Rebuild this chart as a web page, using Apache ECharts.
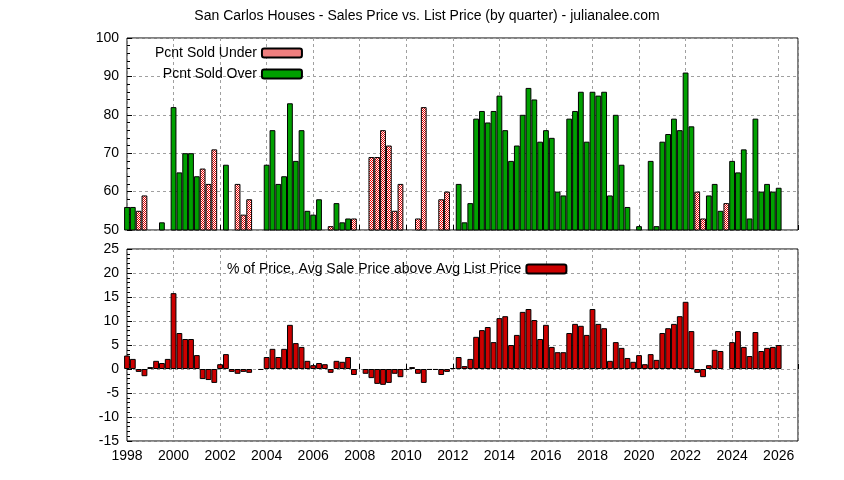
<!DOCTYPE html>
<head>
    <meta charset="UTF-8">
    <title>San Carlos Houses</title>
</head>
<body style="margin:0">
<div id="main" style="width:844px;height:480px"></div>
<script src="https://cdn.jsdelivr.net/npm/echarts@6/dist/echarts.min.js"></script>
<script type="text/javascript">
    // one entry per quarter, 1998 Q1 .. 2026 Q1
    var firstYear = 1998;
    var soldPct = [56,56,55,59,null,null,52,null,82,65,
        70,70,64,66,62,71,null,67,null,62,
        54,58,null,null,67,76,62,64,83,68,
        76,55,54,58,null,51,57,52,53,53,
        null,null,69,69,76,72,55,62,null,null,
        53,82,null,null,58,60,null,62,52,57,
        79,81,78,81,85,76,68,72,80,87,
        84,73,76,74,60,59,79,81,86,73,
        86,85,86,59,80,67,56,null,51,null,
        68,51,73,75,79,76,91,77,60,53,
        59,62,55,57,68,65,71,53,79,60,
        62,60,61];
    // U = sold under list, O = sold over list
    var soldSide = 'OOUU--O-OO' + 'OOOUUU-O-U' + 'UU--OOOOOO' + 'OOOO-UOOOU' +
        '--UUUUUU--' + 'UU--UU-OOO' + 'OOOOOOOOOO' + 'OOOOOOOOOO' +
        'OOOOOOO-O-' + 'OOOOOOOOUU' + 'OOOUOOOOOO' + 'OOO';
    var avgPct = [2.8,2.1,-0.6,-1.5,0.4,1.7,1.25,2.1,15.8,7.5,
        6.25,6.25,2.9,-2.1,-2.3,-2.9,1.0,3.1,-0.6,-1.0,
        -0.6,-0.8,0,-0.2,2.5,4.2,2.5,4.2,9.2,5.4,
        4.6,1.7,0.8,1.25,1.0,-0.8,1.7,1.5,2.5,-1.25,
        0,-1.0,-1.9,-3.1,-3.3,-2.9,-1.0,-1.7,-0.2,0.4,
        -1.0,-2.9,-0.2,-0.2,-1.25,-0.6,0.2,2.5,0.6,2.1,
        6.7,8.1,8.75,5.6,10.6,11.0,5.0,7.1,11.9,12.5,
        10.2,6.25,9.2,4.6,3.5,3.5,7.5,9.4,9.0,7.1,
        12.5,9.4,8.5,1.7,5.6,4.4,2.3,1.5,2.9,1.0,
        3.1,1.9,7.5,8.5,9.4,11.0,14.0,7.9,-0.8,-1.7,
        0.8,4.0,3.75,0,5.6,7.9,4.6,2.7,7.7,3.75,
        4.4,4.6,5.0];

    var underData = [], overData = [], avgData = [];
    for (var i = 0; i < soldPct.length; i++) {
        var x = firstYear + i * 0.25;
        if (soldPct[i] != null) {
            if (soldSide.charAt(i) == 'U') underData.push([x, soldPct[i]]);
            else overData.push([x, soldPct[i]]);
        }
        if (avgPct[i] != 0) avgData.push([x, avgPct[i]]);
    }

    // red/white checker hatch
    var hatch = document.createElement('canvas');
    hatch.width = 4; hatch.height = 4;
    var ctx = hatch.getContext('2d');
    ctx.fillStyle = '#fff'; ctx.fillRect(0, 0, 4, 4);
    ctx.fillStyle = '#e00000';
    ctx.fillRect(0, 0, 1, 1); ctx.fillRect(2, 0, 1, 1);
    ctx.fillRect(1, 1, 1, 1); ctx.fillRect(3, 1, 1, 1);
    ctx.fillRect(0, 2, 1, 1); ctx.fillRect(2, 2, 1, 1);
    ctx.fillRect(1, 3, 1, 1); ctx.fillRect(3, 3, 1, 1);

    var font = 'Liberation Sans';
    var dashed = {show: true, lineStyle: {color: '#a0a0a0', type: [3, 3], width: 1}};
    function xAx(idx, labels) {
        return {
            type: 'value', gridIndex: idx, min: 1998, max: 2026.83, interval: 2,
            axisLine: {show: false},
            axisTick: {inside: true, length: 5, lineStyle: {color: '#000'}},
            axisLabel: {show: labels, color: '#000', fontFamily: font, fontSize: 14,
                formatter: function (v) { return v <= 2026 ? v : ''; }},
            splitLine: dashed
        };
    }
    function yAx(idx, min, max, step) {
        return {
            type: 'value', gridIndex: idx, min: min, max: max, interval: step,
            axisLine: {show: false},
            axisTick: {inside: true, length: 5, lineStyle: {color: '#000'}},
            minorTick: {show: true, splitNumber: 5, length: 3, lineStyle: {color: '#000'}},
            axisLabel: {color: '#000', fontFamily: font, fontSize: 14},
            splitLine: dashed
        };
    }
    var barStyle = {borderColor: '#000', borderWidth: 1};

    var option = {
        animation: false,
        title: {
            text: 'San Carlos Houses - Sales Price vs. List Price (by quarter) - julianalee.com',
            left: 422, top: 4, textAlign: 'center',
            textStyle: {fontFamily: font, fontSize: 14, fontWeight: 'normal', color: '#000'}
        },
        grid: [
            {left: 127, top: 38, width: 671, height: 192, show: true, borderColor: '#000', borderWidth: 1},
            {left: 127, top: 249, width: 671, height: 192, show: true, borderColor: '#000', borderWidth: 1}
        ],
        legend: [
            {
                data: ['Pcnt Sold Under', 'Pcnt Sold Over'],
                orient: 'vertical', align: 'right', left: 150, top: 41,
                itemWidth: 40, itemHeight: 9, itemGap: 7,
                textStyle: {fontFamily: font, fontSize: 14, color: '#000'}
            },
            {
                data: ['% of Price, Avg Sale Price above Avg List Price'],
                align: 'right', left: 222, top: 257,
                itemWidth: 40, itemHeight: 9,
                textStyle: {fontFamily: font, fontSize: 14, color: '#000'}
            }
        ],
        xAxis: [xAx(0, false), xAx(1, true)],
        yAxis: [yAx(0, 50, 100, 10), yAx(1, -15, 25, 5)],
        series: [
            {
                name: 'Pcnt Sold Under', type: 'bar', xAxisIndex: 0, yAxisIndex: 0,
                barWidth: 5.8, barGap: '-100%', data: underData,
                itemStyle: {color: {image: hatch, repeat: 'repeat'}, borderColor: '#000', borderWidth: 1}
            },
            {
                name: 'Pcnt Sold Over', type: 'bar', xAxisIndex: 0, yAxisIndex: 0,
                barWidth: 5.8, barGap: '-100%', data: overData,
                itemStyle: {color: '#00a000', borderColor: '#000', borderWidth: 1}
            },
            {
                name: '% of Price, Avg Sale Price above Avg List Price', type: 'bar',
                xAxisIndex: 1, yAxisIndex: 1, barWidth: 5.8, data: avgData,
                itemStyle: {color: '#cc0000', borderColor: '#000', borderWidth: 1}
            }
        ]
    };

    var myChart = echarts.init(document.getElementById('main'));
    myChart.setOption(option);
</script>
</body>
